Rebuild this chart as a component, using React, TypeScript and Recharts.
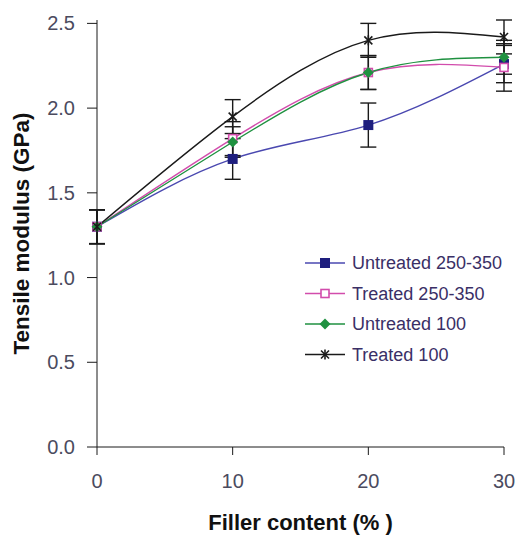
import React from "react";
import { LineChart, Line, XAxis, YAxis, ErrorBar } from "recharts";

const fillerContent = [0, 10, 20, 30];
const untreated250 = [1.3, 1.7, 1.9, 2.26];
const treated250 = [1.3, 1.82, 2.21, 2.24];
const untreated100 = [1.3, 1.8, 2.21, 2.3];
const treated100 = [1.3, 1.95, 2.4, 2.42];

const errUntreated250 = [0.1, 0.12, 0.13, 0.11];
const errTreated250 = [0.1, 0.1, 0.1, 0.14];
const errUntreated100 = [0.1, 0.09, 0.1, 0.1];
const errTreated100 = [0.1, 0.1, 0.1, 0.1];

const yTicks = [0, 0.5, 1.0, 1.5, 2.0, 2.5];
const xTicks = [0, 10, 20, 30];

const seriesNames = ["Untreated 250-350", "Treated 250-350", "Untreated 100", "Treated 100"];

const data = fillerContent.map((x, i) => ({
  x,
  u250: untreated250[i],
  t250: treated250[i],
  u100: untreated100[i],
  t100: treated100[i],
  eu250: errUntreated250[i],
  et250: errTreated250[i],
  eu100: errUntreated100[i],
  et100: errTreated100[i],
}));

const BLUE_LINE = "#4a48b0";
const BLUE_MARK = "#1e1e7e";
const MAGENTA = "#d24cac";
const GREEN = "#1f9140";
const BLACK = "#1a1a1a";

const SquareDot = (props: any) => {
  const { cx, cy } = props;
  if (cx == null || cy == null) return null;
  return <rect x={cx - 5} y={cy - 5} width={10} height={10} fill={BLUE_MARK} />;
};
const OpenSquareDot = (props: any) => {
  const { cx, cy } = props;
  if (cx == null || cy == null) return null;
  return <rect x={cx - 4} y={cy - 4} width={8} height={8} fill="#fff" stroke={MAGENTA} strokeWidth={1.6} />;
};
const DiamondDot = (props: any) => {
  const { cx, cy } = props;
  if (cx == null || cy == null) return null;
  return <polygon points={`${cx},${cy - 5.5} ${cx + 5.5},${cy} ${cx},${cy + 5.5} ${cx - 5.5},${cy}`} fill={GREEN} />;
};
const StarDot = (props: any) => {
  const { cx, cy } = props;
  if (cx == null || cy == null) return null;
  return (
    <g stroke={BLACK} strokeWidth={1.6}>
      <line x1={cx - 4} y1={cy - 4} x2={cx + 4} y2={cy + 4} />
      <line x1={cx - 4} y1={cy + 4} x2={cx + 4} y2={cy - 4} />
      <line x1={cx} y1={cy - 5} x2={cx} y2={cy + 5} />
    </g>
  );
};

const fontFamily = "Liberation Sans, Arial, sans-serif";

const legendItems = [
  { name: seriesNames[0], color: BLUE_LINE, Dot: SquareDot },
  { name: seriesNames[1], color: MAGENTA, Dot: OpenSquareDot },
  { name: seriesNames[2], color: GREEN, Dot: DiamondDot },
  { name: seriesNames[3], color: BLACK, Dot: StarDot },
];

const ChartLegend = () => (
  <svg
    width={215}
    height={120}
    style={{ position: "absolute", left: 305, top: 250, overflow: "visible" }}
  >
    {legendItems.map((it, i) => {
      const y = 13 + i * 30.5;
      return (
        <g key={it.name}>
          <line x1={0} y1={y} x2={40} y2={y} stroke={it.color} strokeWidth={1.4} />
          <it.Dot cx={20} cy={y} />
          <text x={47} y={y} dy="0.36em" fontFamily={fontFamily} fontSize={18} fill="#3a2f66">
            {it.name}
          </text>
        </g>
      );
    })}
  </svg>
);

export default function App() {
  return (
    <div style={{ position: "absolute", left: 0, top: 0, width: 517, height: 536, background: "#fff" }}>
      <LineChart
        width={517}
        height={536}
        data={data}
        margin={{ top: 20, right: 13, left: 0, bottom: 0 }}
      >
        <XAxis
          dataKey="x"
          type="number"
          domain={[0, 30]}
          ticks={xTicks}
          height={89}
          stroke={BLACK}
          tickSize={8}
          tickMargin={19}
          tick={{ fill: "#4b4b5e", fontSize: 20, fontFamily }}
          label={{
            value: "Filler content (% )",
            position: "insideBottom",
            offset: 6,
            style: { fill: "#111", fontSize: 22, fontWeight: "bold", fontFamily, textAnchor: "middle" },
          }}
        />
        <YAxis
          type="number"
          domain={[0, 2.5]}
          ticks={yTicks}
          width={97}
          stroke={BLACK}
          tickSize={10}
          tickMargin={12}
          tickFormatter={(v: number) => v.toFixed(1)}
          tick={{ fill: "#4b4b5e", fontSize: 20, fontFamily }}
          label={{
            value: "Tensile modulus (GPa)",
            angle: -90,
            position: "insideLeft",
            offset: 21,
            style: { fill: "#111", fontSize: 22.5, fontWeight: "bold", fontFamily, textAnchor: "middle" },
          }}
        />
        <Line
          dataKey="u250"
          name={seriesNames[0]}
          type="natural"
          stroke={BLUE_LINE}
          strokeWidth={1.4}
          dot={<SquareDot />}
          isAnimationActive={false}
        >
          <ErrorBar dataKey="eu250" width={8} stroke={BLACK} strokeWidth={1.4} direction="y" isAnimationActive={false} />
        </Line>
        <Line
          dataKey="t250"
          name={seriesNames[1]}
          type="natural"
          stroke={MAGENTA}
          strokeWidth={1.4}
          dot={<OpenSquareDot />}
          isAnimationActive={false}
        >
          <ErrorBar dataKey="et250" width={8} stroke={BLACK} strokeWidth={1.4} direction="y" isAnimationActive={false} />
        </Line>
        <Line
          dataKey="u100"
          name={seriesNames[2]}
          type="natural"
          stroke={GREEN}
          strokeWidth={1.4}
          dot={<DiamondDot />}
          isAnimationActive={false}
        >
          <ErrorBar dataKey="eu100" width={8} stroke={BLACK} strokeWidth={1.4} direction="y" isAnimationActive={false} />
        </Line>
        <Line
          dataKey="t100"
          name={seriesNames[3]}
          type="natural"
          stroke={BLACK}
          strokeWidth={1.4}
          dot={<StarDot />}
          isAnimationActive={false}
        >
          <ErrorBar dataKey="et100" width={8} stroke={BLACK} strokeWidth={1.4} direction="y" isAnimationActive={false} />
        </Line>
      </LineChart>
      <ChartLegend />
    </div>
  );
}
